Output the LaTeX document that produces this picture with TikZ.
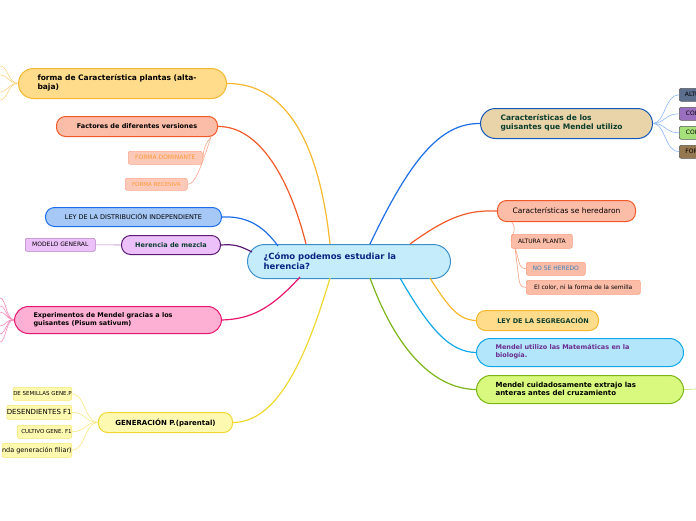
\documentclass[tikz,border=0pt]{standalone}
\usepackage{fontspec}
\setmainfont{DejaVu Sans}
\begin{document}
\begin{tikzpicture}[x=1pt,y=-1pt,
 box/.style={draw,rounded corners=#1,line width=1pt,inner sep=0pt,anchor=north west},
 box/.default=9pt,
 lf/.style={draw,rounded corners=2pt,line width=0.6pt,inner sep=0pt,anchor=north west,font=\fontsize{6}{7}\selectfont},
 ed/.style={line width=1.2pt},
 se/.style={line width=0.6pt}]
\useasboundingbox (0,0) rectangle (696,520);
\definecolor{cyel}{HTML}{F5B82E}\definecolor{fyel}{HTML}{FEDC8C}
\definecolor{cora}{HTML}{F05A28}\definecolor{fora}{HTML}{FBBCA8}
\definecolor{cblu}{HTML}{1C6EE8}\definecolor{fblu}{HTML}{A5C8F7}
\definecolor{cpur}{HTML}{5B1A73}\definecolor{fpur}{HTML}{ECC0F9}
\definecolor{cpin}{HTML}{E8156E}\definecolor{fpin}{HTML}{FDB0D3}
\definecolor{cgy}{HTML}{F0D830}\definecolor{fgy}{HTML}{FEF9B0}
\definecolor{ccy}{HTML}{12A8E6}\definecolor{fcy}{HTML}{B3E6FB}
\definecolor{cgr}{HTML}{7CB518}\definecolor{fgr}{HTML}{D8F97E}
\definecolor{ccen}{HTML}{3A8FC9}\definecolor{fcen}{HTML}{C5ECFB}
\definecolor{dk}{HTML}{0B3D2E}
\definecolor{ftan}{HTML}{E8D4A8}
% central
\node[box=17pt,draw=ccen,fill=fcen,minimum width=203pt,minimum height=34pt] (c) at (247,244) {};
\node[anchor=west,align=left,font=\bfseries\fontsize{8.5}{10}\selectfont,text=dk!60!blue] at (260,261) {¿Cómo podemos estudiar la\\herencia?};
% left
\node[box=15pt,draw=cyel,fill=fyel,minimum width=208pt,minimum height=30pt] (a) at (18,68) {};
\node[anchor=west,align=left,font=\bfseries\fontsize{7.5}{9}\selectfont] at (34,83) {forma de Característica plantas (alta-\\baja)};
\node[box,draw=cora,fill=fora,minimum width=161pt,minimum height=20pt,font=\bfseries\fontsize{6.5}{8}\selectfont] (b) at (56,116) {\makebox[161pt]{Factores de diferentes versiones}};
\node[lf,draw=fora!80!cora,fill=fora!80,text=orange!80,minimum width=74pt,minimum height=13pt] (b1) at (128,151) {\makebox[74pt]{FORMA DOMINANTE}};
\node[lf,draw=fora!80!cora,fill=fora!80,text=orange!80,minimum width=62pt,minimum height=12pt,font=\fontsize{5.5}{7}\selectfont] (b2) at (125,178) {\makebox[62pt]{FORMA RECESIVA}};
\node[box,draw=cblu,fill=fblu,minimum width=176pt,minimum height=19pt,font=\fontsize{6.5}{8}\selectfont] (d) at (45,207) {\makebox[176pt]{LEY DE LA DISTRIBUCIÓN INDEPENDIENTE}};
\node[box,draw=cpur,fill=fpur,minimum width=99pt,minimum height=19pt,font=\bfseries\fontsize{6.5}{8}\selectfont,text=dk] (e) at (121,235) {\makebox[99pt]{Herencia de mezcla}};
\node[lf,draw=fpur!60!cpur,fill=fpur,minimum width=70pt,minimum height=13pt] (e1) at (25,238) {\makebox[70pt]{MODELO GENERAL}};
\node[box=14pt,draw=cpin,fill=fpin,minimum width=207pt,minimum height=27pt] (f) at (14,306) {};
\node[anchor=west,align=left,font=\bfseries\fontsize{6.5}{8}\selectfont] at (30,319.5) {Experimentos de Mendel gracias a los\\guisantes (Pisum sativum)};
\node[box,draw=cgy,fill=fgy,minimum width=134pt,minimum height=20pt,font=\bfseries\fontsize{7}{8}\selectfont] (g) at (98,412) {\makebox[134pt]{GENERACIÓN P.(parental)}};
\node[lf,draw=fgy!50!cgy,fill=fgy,anchor=north east,minimum height=13pt,font=\fontsize{5.5}{7}\selectfont] (g1) at (72,387) {DE SEMILLAS GENE.P\hspace{3pt}};
\node[lf,draw=fgy!50!cgy,fill=fgy,anchor=north east,minimum height=14pt,font=\fontsize{7}{8}\selectfont] (g2) at (72,405) {DESENDIENTES F1\hspace{3pt}};
\node[lf,draw=fgy!50!cgy,fill=fgy,anchor=north east,minimum height=13pt,font=\fontsize{5.5}{7}\selectfont] (g3) at (72,425) {\hspace{4pt}CULTIVO GENE. F1\hspace{4pt}};
\node[lf,draw=fgy!50!cgy,fill=fgy,anchor=north east,minimum height=14pt,font=\fontsize{6.5}{8}\selectfont] (g4) at (72,443) {nda generación filiar)\hspace{3pt}};
% right
\node[box=15pt,draw=cblu!80!black,fill=ftan,minimum width=172pt,minimum height=30pt] (h) at (480,108) {};
\node[anchor=west,align=left,font=\bfseries\fontsize{7.5}{9}\selectfont,text=dk] at (497,123) {Características de los\\guisantes que Mendel utilizo};
\node[lf,draw=gray!70!black,fill={rgb,255:red,93;green,111;blue,143},minimum width=30pt,minimum height=13pt] (h1) at (679,88) {\hspace{4pt}ALTURA\hfill};
\node[lf,draw=gray!70!black,fill={rgb,255:red,155;green,111;blue,191},minimum width=30pt,minimum height=13pt] (h2) at (679,107) {\hspace{4pt}COLOR\hfill};
\node[lf,draw=gray!70!black,fill={rgb,255:red,166;green,224;blue,122},minimum width=30pt,minimum height=13pt] (h3) at (679,126) {\hspace{4pt}COLOR\hfill};
\node[lf,draw=gray!70!black,fill={rgb,255:red,150;green,120;blue,80},minimum width=30pt,minimum height=13pt] (h4) at (679,145) {\hspace{4pt}FORMA\hfill};
\node[box,draw=cora,fill=fora,minimum width=138pt,minimum height=21pt,font=\fontsize{7.5}{9}\selectfont] (i) at (497,200) {\makebox[138pt]{Características se heredaron}};
\node[lf,draw=fora!70!cora,fill=fora,minimum width=61pt,minimum height=14pt] (i1) at (511,234) {\makebox[61pt]{ALTURA PLANTA}};
\node[lf,draw=fora!70!cora,fill=fora,text={rgb,255:red,60;green,130;blue,190},minimum width=59pt,minimum height=13pt] (i2) at (526,262) {\makebox[59pt]{NO SE HEREDO}};
\node[lf,draw=fora!70!cora,fill=fora,minimum width=114pt,minimum height=14pt] (i3) at (526,280) {\makebox[114pt]{El color, ni la forma de la semilla}};
\node[box,draw=cyel,fill=fyel,minimum width=122pt,minimum height=20pt,font=\bfseries\fontsize{6.5}{8}\selectfont,text=dk] (j) at (476,310) {\hspace{11pt}LEY DE LA SEGREGACIÓN\hfill};
\node[box=14pt,draw=ccy,fill=fcy,minimum width=207pt,minimum height=28pt] (k) at (476,338) {};
\node[anchor=west,align=left,font=\bfseries\fontsize{6.5}{8}\selectfont,text={rgb,255:red,106;green,44;blue,145}] at (492,352) {Mendel utilizo las Matemáticas en la\\biología.};
\node[box=14pt,draw=cgr,fill=fgr,minimum width=207pt,minimum height=28pt] (l) at (476,375) {};
\node[anchor=west,align=left,font=\bfseries\fontsize{7}{8.5}\selectfont] at (492,389) {Mendel cuidadosamente extrajo las\\anteras antes del cruzamiento};
% connectors
\coordinate (ca) at (330,244);\coordinate (cb) at (306,244);\coordinate (cd) at (278,246);
\coordinate (ce) at (252,252);\coordinate (cf) at (300,277);\coordinate (cg) at (330,278);
\coordinate (ch) at (370,244);\coordinate (ci) at (410,244);\coordinate (cj) at (430,278);
\coordinate (ck) at (400,278);\coordinate (cl) at (370,278);
\draw[ed,cyel] (ca) .. controls (320,150) and (290,83) .. (a.east);
\draw[ed,cora] (cb) .. controls (290,180) and (260,126) .. (b.east);
\draw[ed,cblu] (cd) .. controls (262,224) and (245,216) .. (d.east);
\draw[ed,cpur] (ce) .. controls (240,246) and (235,244) .. (e.east);
\draw[ed,cpin] (cf) .. controls (270,310) and (250,319) .. (f.east);
\draw[ed,cgy] (cg) .. controls (300,380) and (270,422) .. (g.east);
\draw[ed,cblu] (ch) .. controls (410,160) and (440,123) .. (h.west);
\draw[ed,cora] (ci) .. controls (450,215) and (470,210) .. (i.west);
\draw[ed,cyel] (cj) .. controls (450,310) and (460,320) .. (j.west);
\draw[ed,ccy] (ck) .. controls (430,330) and (450,352) .. (k.west);
\draw[ed,cgr] (cl) .. controls (400,360) and (440,389) .. (l.west);
\draw[se,fgr!70!cgr] (l.east) -- (696,389);
\draw[se,fpur!60!cpur] (e.west) -- (e1.east);
\coordinate (bb) at (211,137);
\draw[se,fora!80!cora] (bb) .. controls (200,150) and (205,158) .. (b1.east);
\draw[se,fora!80!cora] (bb) .. controls (200,170) and (195,184) .. (b2.east);
\foreach \t in {g1,g2,g3,g4}{\draw[se,cgy!60] (g.west) .. controls (85,422) and ([xshift=13pt]\t.east) .. (\t.east);}
\foreach \t in {h1,h2,h3,h4}{\draw[se,cblu!50] (h.east) .. controls (665,123) and ([xshift=-14pt]\t.west) .. (\t.west);}
\draw[se,fora!70!cora] (512,222) .. controls (518,232) and (510,236) .. (i1.west);
\draw[se,fora!70!cora] (515,248) .. controls (520,262) and (518,268) .. (i2.west);
\draw[se,fora!70!cora] (515,248) .. controls (520,285) and (518,287) .. (i3.west);
\foreach \yy in {66,75,92,100}{\draw[se,cyel!60] (a.west) .. controls (8,83) and (8,\yy) .. (0,\yy);}
\foreach \yy in {298,306,312,326,334,342}{\draw[se,cpin!50] (f.west) .. controls (6,319) and (6,\yy) .. (0,\yy);}
\end{tikzpicture}
\end{document}
